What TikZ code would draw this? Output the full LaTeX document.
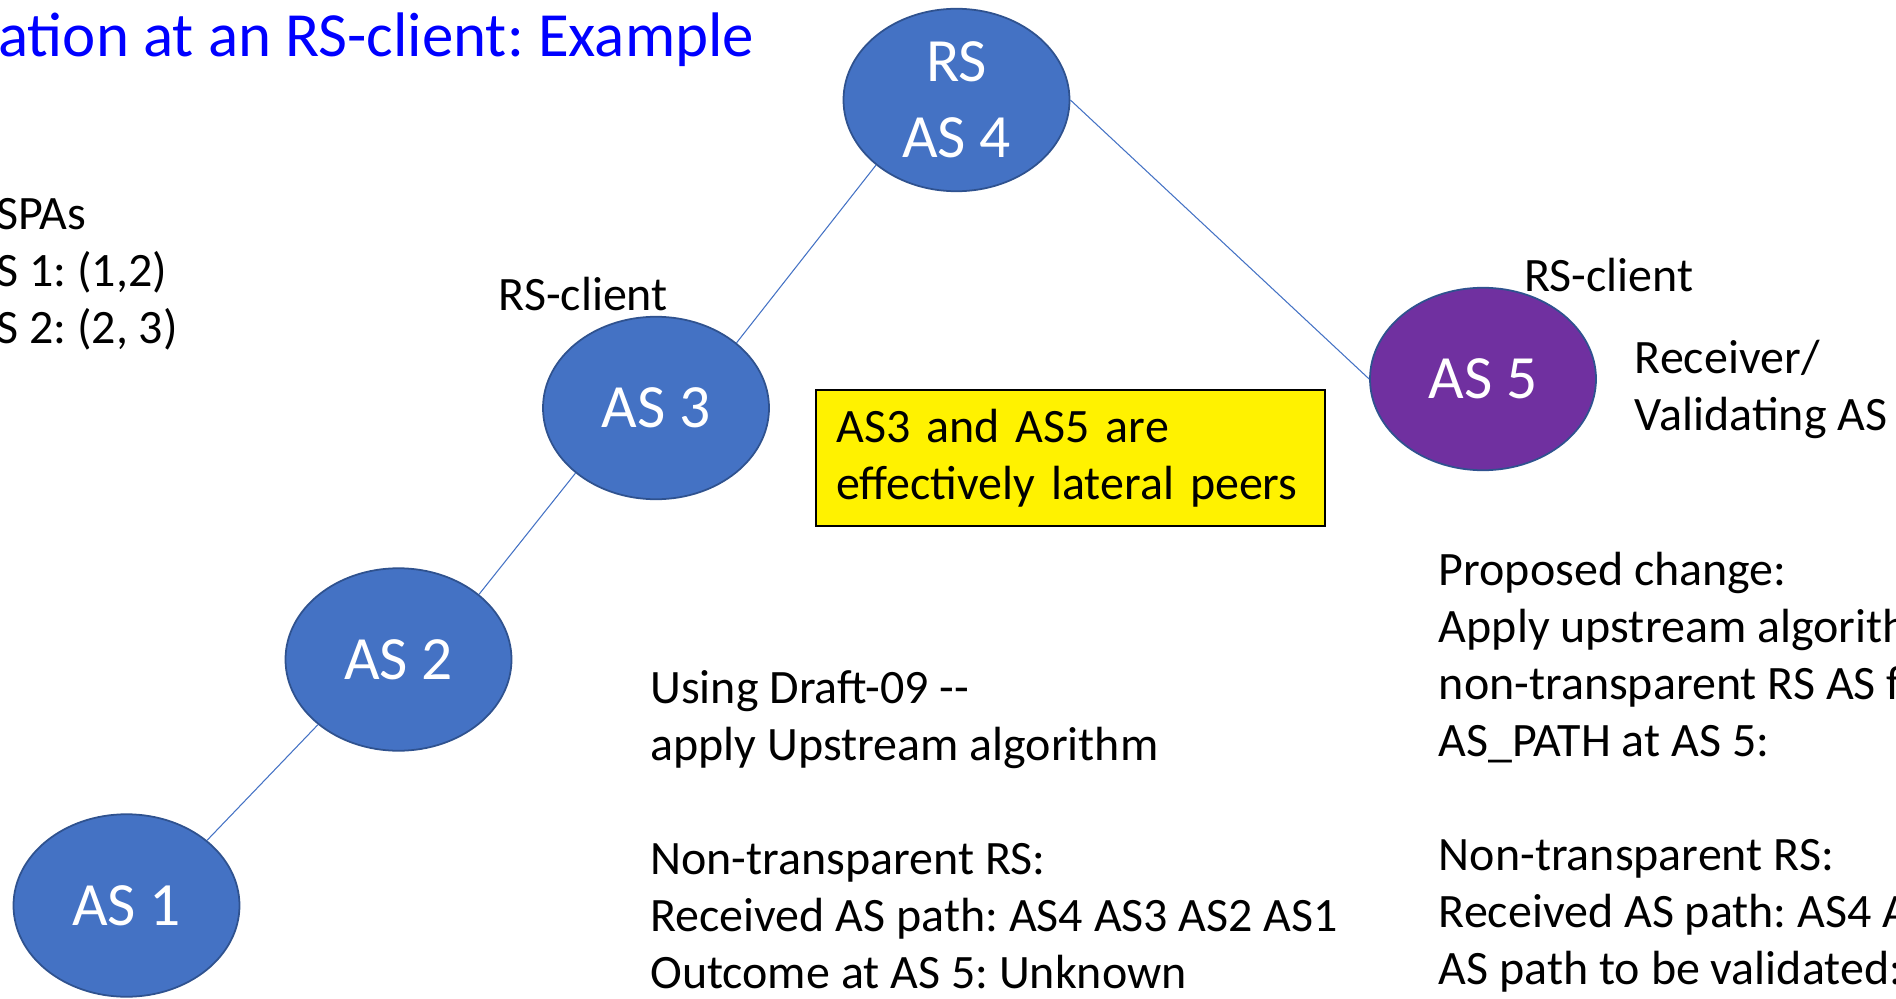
\documentclass[tikz,border=0pt]{standalone}
\usepackage{fontspec}
\setmainfont{Carlito}
\usepackage{tikz}
\usetikzlibrary{shapes.geometric}
\frenchspacing
\definecolor{asfill}{HTML}{4472C4}
\definecolor{asedge}{HTML}{2F528F}
\definecolor{rcvfill}{HTML}{7030A0}
\definecolor{titleblue}{HTML}{0000FF}
\tikzset{
  asnode/.style={ellipse,draw=asedge,line width=1pt,fill=asfill,text=white,inner sep=0pt,
    minimum width=4.52cm,minimum height=3.65cm,align=center,font=\fontsize{35}{43.2}\selectfont},
  link/.style={asfill,line width=0.6pt},
  % base of a multi-line node is its last line
  txt/.style={anchor=base west,align=left,inner sep=0pt,font=\fontsize{27.3}{32.4}\selectfont},
  note/.style={draw=black,line width=1pt,fill=yellow,anchor=north west,inner xsep=0.41cm,inner ysep=0pt,
    text width=9.36cm,minimum height=2.72cm,align=left,font=\fontsize{27.3}{32.4}\selectfont}
}
\begin{document}
\begin{tikzpicture}
\useasboundingbox (0,0) rectangle (37.92,-19.98);
\clip (0,0) rectangle (37.92,-19.98);
% title, cut at the left edge
\node[anchor=base west,inner sep=0pt,text=titleblue,font=\fontsize{35.8}{42}\selectfont] (title) at (-0.04,-1.14) {ation at an RS-client: Example};
% the ASes
\node[asnode] (rs) at (19.13,-2.0) {RS\\AS 4};
\node[asnode] (as3) at (13.12,-8.16) {AS 3};
\node[asnode] (as2) at (7.97,-13.19) {AS 2};
\node[asnode] (as1) at (2.53,-18.11) {AS 1};
\node[asnode,fill=rcvfill] (as5) at (29.66,-7.58) {AS 5};
\draw[link] (as1.north east) -- (as2.south west);
\draw[link] (as2.north east) -- (as3.south west);
\draw[link] (as3.north east) -- (rs.south west);
\draw[link] (rs.east) -- (as5.west);
% labels and notes
\node[txt] (spas) at (-0.08,-6.87) {SPAs\\S 1: (1,2)\\S 2: (2, 3)};
\node[txt] (cli3) at (9.97,-6.22) {RS-client};
\node[txt] (cli5) at (30.48,-5.82) {RS-client};
\node[txt] (rcv) at (32.69,-8.6) {Receiver/\\Validating AS};
\node[note] (peers) at (16.3,-7.78) {AS3 and AS5 are\\effectively lateral peers};
\node[txt] (draft) at (13.0,-19.76) {Using Draft-09 -{}-\\apply Upstream algorithm\\[32.4pt]
  Non-transparent RS:\\Received AS path: AS4 AS3 AS2 AS1\\Outcome at AS 5: Unknown};
\node[txt] (change) at (28.77,-19.68) {Proposed change:\\Apply upstream algorithm\\non-transparent RS AS f\\AS\_PATH at AS 5:\\[32.4pt]
  Non-transparent RS:\\Received AS path: AS4 A\\AS path to be validated:};
\end{tikzpicture}
\end{document}
